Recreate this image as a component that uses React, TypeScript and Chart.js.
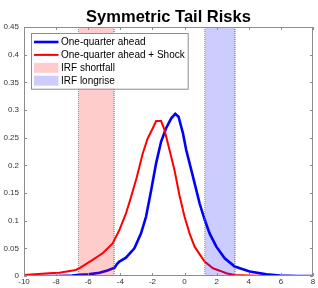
import React, { useEffect, useRef } from "react";
import { Chart, registerables } from "chart.js";

Chart.register(...registerables);

const TITLE = "Symmetric Tail Risks";
const X_MIN = -10;
const X_MAX = 8;
const X_STEP = 2;
const Y_MIN = 0;
const Y_MAX = 0.45;
const Y_STEP = 0.05;

const blueX = [-10, -8, -7, -6.56, -6, -5.3, -4.8, -4.36, -4.2, -4.06, -3.65, -3.125, -2.71, -2.4, -2.08, -1.77, -1.46, -1.15, -0.83, -0.58, -0.375, -0.1, 0.1, 0.52, 0.94, 1.25, 1.56, 1.98, 2.5, 3.125, 4.06, 5.1, 5.94, 7, 8];
const blueY = [0.0, 0.0, 0.001, 0.002, 0.003, 0.006, 0.01, 0.015, 0.022, 0.026, 0.033, 0.05, 0.077, 0.107, 0.155, 0.204, 0.243, 0.267, 0.285, 0.293, 0.288, 0.258, 0.228, 0.18, 0.131, 0.102, 0.077, 0.053, 0.032, 0.017, 0.008, 0.003, 0.001, 0.0, 0.0];

const redX = [-10, -8.44, -7.8, -6.77, -6.56, -5.73, -5.1, -4.48, -4.06, -3.65, -3.33, -2.98, -2.6, -2.29, -1.98, -1.77, -1.46, -1.25, -0.94, -0.625, -0.31, 0, 0.31, 0.625, 1.04, 1.25, 1.77, 2.19, 2.6, 3.1, 4, 5, 8];
const redY = [0.002, 0.005, 0.006, 0.011, 0.014, 0.029, 0.041, 0.059, 0.083, 0.113, 0.143, 0.178, 0.222, 0.249, 0.267, 0.28, 0.28, 0.264, 0.228, 0.191, 0.145, 0.107, 0.077, 0.053, 0.035, 0.026, 0.014, 0.0096, 0.005, 0.002, 0.001, 0.0, 0.0];

const shortfallRange = [-6.61, -4.39];
const longriseRange = [1.26, 3.14];

const LABELS = ["One-quarter ahead", "One-quarter ahead + Shock", "IRF shortfall", "IRF longrise"];

const FONT = "'Liberation Sans', Arial, Helvetica, sans-serif";

const pts = (xs: number[], ys: number[]) => xs.map((x, i) => ({ x, y: ys[i] }));

const decorPlugin = {
  id: "decor",
  afterDraw(chart: any) {
    const { ctx, chartArea: a, scales } = chart;
    const xs = scales.x;
    const ys = scales.y;
    ctx.save();
    ctx.strokeStyle = "#8c8c8c";
    ctx.lineWidth = 1;
    ctx.strokeRect(a.left + 0.5, a.top + 0.5, a.right - a.left - 1, a.bottom - a.top - 1);
    const tl = 3;
    ctx.beginPath();
    for (let v = X_MIN; v <= X_MAX + 1e-9; v += X_STEP) {
      const px = Math.round(xs.getPixelForValue(v)) + 0.5;
      ctx.moveTo(px, a.bottom);
      ctx.lineTo(px, a.bottom - tl);
      ctx.moveTo(px, a.top);
      ctx.lineTo(px, a.top + tl);
    }
    for (let v = Y_MIN; v <= Y_MAX + 1e-9; v += Y_STEP) {
      const py = Math.round(ys.getPixelForValue(v)) + 0.5;
      ctx.moveTo(a.left, py);
      ctx.lineTo(a.left + tl, py);
      ctx.moveTo(a.right, py);
      ctx.lineTo(a.right - tl, py);
    }
    ctx.stroke();

    ctx.fillStyle = "#000";
    ctx.font = `bold 16.5px ${FONT}`;
    ctx.textAlign = "center";
    ctx.textBaseline = "alphabetic";
    ctx.fillText(TITLE, (a.left + a.right) / 2, 22);

    const items = chart.data.datasets
      .filter((d: any) => d.legendKind)
      .slice()
      .sort((p: any, q: any) => p.legendOrder - q.legendOrder);
    ctx.font = `10px ${FONT}`;
    let maxW = 0;
    items.forEach((d: any) => {
      maxW = Math.max(maxW, ctx.measureText(d.label).width);
    });
    const bx = a.left + 7;
    const by = a.top + 6;
    const textX = bx + 30;
    const rowH = 12.9;
    const bw = textX - bx + maxW + 3;
    const bh = 9 + rowH * (items.length - 1) + 8;
    ctx.fillStyle = "#fff";
    ctx.fillRect(bx, by, bw, bh);
    ctx.strokeStyle = "#8c8c8c";
    ctx.lineWidth = 1;
    ctx.strokeRect(bx + 0.5, by + 0.5, bw, bh);
    items.forEach((d: any, i: number) => {
      const cy = by + 9 + i * rowH;
      if (d.legendKind === "line") {
        ctx.strokeStyle = d.borderColor;
        ctx.lineWidth = d.borderWidth;
        ctx.beginPath();
        ctx.moveTo(bx + 3, cy);
        ctx.lineTo(bx + 27.5, cy);
        ctx.stroke();
      } else {
        ctx.fillStyle = d.backgroundColor;
        ctx.fillRect(bx + 3, cy - 5, 24.5, 10);
      }
      ctx.fillStyle = "#000";
      ctx.textAlign = "left";
      ctx.textBaseline = "middle";
      ctx.fillText(d.label, textX, cy + 0.5);
    });
    ctx.restore();
  },
};

export default function App() {
  const ref = useRef<HTMLCanvasElement | null>(null);
  useEffect(() => {
    if (!ref.current) return;
    const edge = (x: number, color: string) => ({
      label: "",
      data: [
        { x, y: Y_MIN },
        { x, y: Y_MAX },
      ],
      borderColor: color,
      backgroundColor: color,
      borderWidth: 1,
      borderDash: [1, 1],
      pointRadius: 0,
      fill: false,
    });
    const region = (r: number[], label: string, color: string, order: number) => ({
      label,
      legendKind: "patch",
      legendOrder: order,
      data: [
        { x: r[0], y: Y_MAX },
        { x: r[1], y: Y_MAX },
      ],
      borderWidth: 0,
      borderColor: "rgba(0,0,0,0)",
      backgroundColor: color,
      pointRadius: 0,
      fill: "origin",
    });
    const chart = new Chart(ref.current, {
      type: "line",
      data: {
        datasets: [
          edge(shortfallRange[0], "rgba(255,60,60,0.9)"),
          edge(shortfallRange[1], "rgba(60,60,255,0.9)"),
          edge(longriseRange[0], "rgba(255,60,60,0.9)"),
          edge(longriseRange[1], "rgba(60,60,255,0.9)"),
          region(shortfallRange, LABELS[2], "rgba(255,0,0,0.2)", 2),
          region(longriseRange, LABELS[3], "rgba(0,0,255,0.2)", 3),
          {
            label: LABELS[1],
            legendKind: "line",
            legendOrder: 1,
            data: pts(redX, redY),
            borderColor: "#ff0000",
            borderWidth: 2,
            pointRadius: 0,
            tension: 0,
            fill: false,
          },
          {
            label: LABELS[0],
            legendKind: "line",
            legendOrder: 0,
            data: pts(blueX, blueY),
            borderColor: "#0000ff",
            borderWidth: 2.6,
            pointRadius: 0,
            tension: 0,
            fill: false,
          },
        ] as any,
      },
      options: {
        animation: false,
        responsive: false,
        devicePixelRatio: 1,
        layout: { padding: { top: 27, right: 5, left: 0, bottom: 0 } },
        plugins: {
          legend: { display: false },
          title: { display: false },
          tooltip: { enabled: false },
        },
        scales: {
          x: {
            type: "linear",
            min: X_MIN,
            max: X_MAX,
            grid: { display: false, drawTicks: false },
            border: { display: false },
            ticks: {
              stepSize: X_STEP,
              padding: 1,
              color: "#333",
              font: { family: FONT, size: 8 },
              maxRotation: 0,
            },
            afterFit: (s: any) => {
              s.height = 12;
            },
          },
          y: {
            type: "linear",
            min: Y_MIN,
            max: Y_MAX,
            grid: { display: false, drawTicks: false },
            border: { display: false },
            ticks: {
              stepSize: Y_STEP,
              padding: 5,
              color: "#333",
              font: { family: FONT, size: 8 },
              callback: (v: any) => String(Number(Number(v).toFixed(2))),
            },
            afterFit: (s: any) => {
              s.width = 24;
            },
          },
        },
      },
      plugins: [decorPlugin],
    });
    return () => chart.destroy();
  }, []);
  return (
    <div style={{ position: "absolute", left: 0, top: 0, width: 318, height: 288, background: "#fff" }}>
      <canvas ref={ref} width={318} height={288} style={{ width: 318, height: 288, display: "block" }} />
    </div>
  );
}
